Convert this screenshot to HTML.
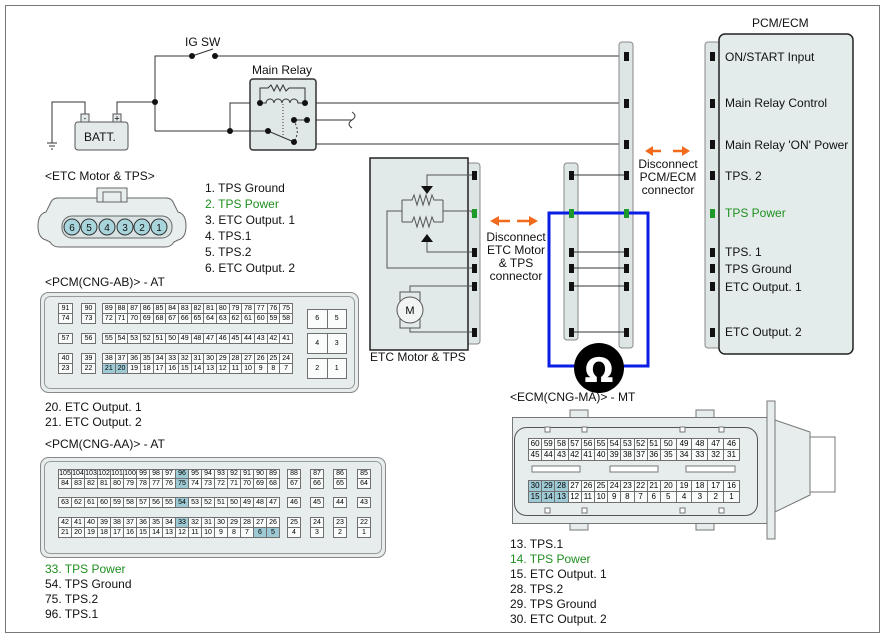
<!DOCTYPE html>
<html><head><meta charset="utf-8"><style>
body{margin:0;background:#fff;}
#w{position:relative;width:888px;height:640px;overflow:hidden;font-family:"Liberation Sans",sans-serif;}
svg{position:absolute;left:0;top:0}
.t{position:absolute;font-size:12px;color:#111;white-space:nowrap;line-height:14px}
.gr{color:#1f8f1f}
table.g{position:absolute;border-collapse:collapse;table-layout:fixed}
table.g td{border:1px solid #707070;background:#fafbfb;font:7px "Liberation Sans",sans-serif;text-align:center;padding:0;overflow:hidden;line-height:8px}
table.g td.h{background:#9ecad5}
table.e td{font-size:8px}
</style></head><body><div id="w">
<svg width="888" height="640" viewBox="0 0 888 640">
<rect x="5.5" y="5.5" width="874" height="627" fill="none" stroke="#777" stroke-width="1"/>
<g stroke="#333" stroke-width="1" fill="none">
<!-- top wiring -->
<polyline points="155,131 155,56 192,56"/>
<line x1="192" y1="56" x2="213" y2="49"/>
<polyline points="215,56 626,56"/>
<polyline points="117,115 117,102 155,102"/>
<polyline points="85,115 85,102 52,102 52,143"/>
<line x1="47" y1="143" x2="57" y2="143"/><line x1="49" y1="146" x2="55" y2="146"/><line x1="51" y1="149" x2="53" y2="149"/>
<polyline points="155,131 268,131"/>
<polyline points="230,131 230,103 260,103"/>
<polyline points="305,103 626,103"/>
<polyline points="307,120 352,120"/>
<path d="M352,112 q6,4 0,8 q-6,4 0,8"/>
<polyline points="307,120 307,144 626,144"/>
</g>
<rect x="250" y="79" width="66" height="71" rx="3" fill="#dfe7e7" stroke="#333" stroke-width="1.5"/>
<g stroke="#333" stroke-width="1" fill="none">
<polyline points="260,103 260,88 268,88 271,85 274,91 277,85 280,91 283,85 286,91 289,88 305,88 305,103"/>
<path d="M260,103 h6 a4,4 0 0 1 8,0 a4,4 0 0 1 8,0 a4,4 0 0 1 8,0 a4,4 0 0 1 8,0 h7"/>
<line x1="250" y1="131" x2="268" y2="131"/>
<line x1="268" y1="131" x2="294" y2="142"/>
<path d="M293,120 q8,10 1,22" stroke-dasharray="2,2"/>
<line x1="283" y1="104" x2="283" y2="140" stroke-dasharray="1,2"/>
<line x1="294" y1="120" x2="307" y2="120"/>
</g>
<g fill="#111">
<circle cx="155" cy="102" r="3"/><circle cx="192" cy="56" r="3"/><circle cx="215" cy="56" r="3"/><circle cx="230" cy="131" r="3"/>
<circle cx="260" cy="103" r="3"/><circle cx="305" cy="103" r="3"/><circle cx="294" cy="120" r="3"/><circle cx="307" cy="120" r="3"/><circle cx="268" cy="131" r="3"/><circle cx="294" cy="142" r="3"/>
</g>
<rect x="75" y="122" width="53" height="28" rx="3" fill="#e4eaea" stroke="#555"/>
<rect x="81" y="114" width="8" height="8" fill="#e4eaea" stroke="#555"/><rect x="113" y="114" width="8" height="8" fill="#e4eaea" stroke="#555"/>
<text x="85" y="121" font-size="8" text-anchor="middle" font-family="Liberation Sans">-</text>
<text x="117" y="121.5" font-size="9" text-anchor="middle" font-family="Liberation Sans">+</text>

<!-- ETC connector -->
<path d="M58,198 h108 q6,0 8,6 l4,8 q8,2 8,14 q0,12 -8,14 l-4,2 q-3,5 -9,5 h-106 q-6,0 -9,-5 l-4,-2 q-8,-2 -8,-14 q0,-12 8,-14 l4,-8 q2,-6 8,-6 z" fill="#e8eded" stroke="#666"/>
<rect x="97" y="188" width="30" height="14" fill="#e8eded" stroke="#666"/>
<rect x="103" y="192" width="18" height="10" fill="#e8eded" stroke="#666"/>
<rect x="62" y="216" width="110" height="22" rx="10" fill="#d8e2e2" stroke="#666"/>
<g fill="#a8d4dc" stroke="#333"><circle cx="72" cy="227" r="8"/><circle cx="89" cy="227" r="8"/><circle cx="107" cy="227" r="8"/><circle cx="125" cy="227" r="8"/><circle cx="142" cy="227" r="8"/><circle cx="159" cy="227" r="8"/></g>
<g font-size="10" font-family="Liberation Sans" text-anchor="middle" fill="#111"><text x="72" y="231">6</text><text x="89" y="231">5</text><text x="107" y="231">4</text><text x="125" y="231">3</text><text x="142" y="231">2</text><text x="159" y="231">1</text></g>

<!-- connector boxes -->
<rect x="40.5" y="292.5" width="318" height="100" rx="8" fill="#e7eded" stroke="#888"/>
<rect x="44.5" y="296.5" width="310" height="92" rx="6" fill="none" stroke="#999"/>
<rect x="40.5" y="457.5" width="345" height="100" rx="8" fill="#e7eded" stroke="#888"/>
<rect x="44.5" y="461.5" width="337" height="92" rx="6" fill="none" stroke="#999"/>

<!-- ECM connector -->
<rect x="570" y="410" width="18" height="10" fill="#e7eded" stroke="#777"/><rect x="696" y="410" width="18" height="10" fill="#e7eded" stroke="#777"/>
<rect x="570" y="520" width="18" height="10" fill="#e7eded" stroke="#777"/><rect x="696" y="520" width="18" height="10" fill="#e7eded" stroke="#777"/>
<path d="M775,420 L810,432 V495 L775,512 Z" fill="#e7eded" stroke="#777"/>
<rect x="810" y="437" width="25" height="55" fill="#fff" stroke="#777"/>
<rect x="512.5" y="417.5" width="255" height="106" fill="#e7eded" stroke="#777"/>
<rect x="767" y="401" width="8" height="138" fill="#e7eded" stroke="#777"/>
<rect x="514.5" y="427.5" width="243" height="88" rx="12" fill="#e7eded" stroke="#555"/>
<g fill="#fff" stroke="#777"><rect x="545" y="427" width="5" height="5"/><rect x="582" y="427" width="5" height="5"/><rect x="680" y="427" width="5" height="5"/><rect x="719" y="427" width="5" height="5"/>
<rect x="545" y="508" width="5" height="5"/><rect x="582" y="508" width="5" height="5"/><rect x="680" y="508" width="5" height="5"/><rect x="719" y="508" width="5" height="5"/>
<rect x="532" y="466" width="48" height="6"/><rect x="610" y="466" width="48" height="6"/><rect x="686" y="466" width="49" height="6"/></g>

<!-- ETC motor box -->
<rect x="466" y="163" width="14" height="181" rx="3" fill="#dde5e5" stroke="#888"/>
<rect x="370" y="158" width="98" height="192" fill="#e2e9e9" stroke="#222" stroke-width="1.5"/>
<g stroke="#555" stroke-width="1" fill="none">
<polyline points="472,175 427,175 427,186"/>
<polyline points="472,252 427,252 427,242"/>
<polyline points="402,200 402,222"/><polyline points="443,200 443,222"/>
<polyline points="402,200 412,200 414,195 417,205 420,195 423,205 426,195 429,205 432,195 434,200 443,200"/>
<polyline points="402,222 412,222 414,217 417,227 420,217 423,227 426,217 429,227 432,217 434,222 443,222"/>
<polyline points="443,211 472,211 472,213"/>
<polyline points="402,211 387,211 387,268 472,268"/>
<polyline points="472,286 410,286 410,292"/>
<polyline points="410,328 410,332 472,332"/>
<rect x="400" y="292" width="20" height="36"/>
</g>
<polygon points="421,186 433,186 427,194" fill="#111"/>
<polygon points="421,242 433,242 427,234" fill="#111"/>
<circle cx="410" cy="310" r="13" fill="#f2f4f4" stroke="#555"/>
<text x="410" y="314" font-size="11" text-anchor="middle" font-family="Liberation Sans">M</text>

<!-- middle strips -->
<rect x="564" y="163" width="14" height="177" rx="3" fill="#dde5e5" stroke="#888"/>
<rect x="619" y="42" width="14" height="306" rx="3" fill="#dde5e5" stroke="#888"/>
<g stroke="#333"><line x1="571" y1="175" x2="626" y2="175"/><line x1="571" y1="252" x2="626" y2="252"/><line x1="571" y1="268" x2="626" y2="268"/><line x1="571" y1="286" x2="626" y2="286"/><line x1="571" y1="332" x2="626" y2="332"/></g>
<polyline points="571,213 549,213 549,366 648,366 648,213 571,213" fill="none" stroke="#0a1ee6" stroke-width="3"/>
<circle cx="599" cy="368" r="25" fill="#000"/>
<text x="599" y="382" font-size="34" fill="#fff" text-anchor="middle" font-family="DejaVu Sans" font-weight="bold">Ω</text>

<!-- pins -->
<g fill="#111">
<rect x="472" y="171" width="5" height="9"/><rect x="472" y="248" width="5" height="9"/><rect x="472" y="264" width="5" height="9"/><rect x="472" y="282" width="5" height="9"/><rect x="472" y="328" width="5" height="9"/>
<rect x="569" y="171" width="5" height="9"/><rect x="569" y="248" width="5" height="9"/><rect x="569" y="264" width="5" height="9"/><rect x="569" y="282" width="5" height="9"/><rect x="569" y="328" width="5" height="9"/>
<rect x="624" y="52" width="5" height="9"/><rect x="624" y="99" width="5" height="9"/><rect x="624" y="140" width="5" height="9"/><rect x="624" y="171" width="5" height="9"/><rect x="624" y="248" width="5" height="9"/><rect x="624" y="264" width="5" height="9"/><rect x="624" y="282" width="5" height="9"/><rect x="624" y="328" width="5" height="9"/>
<rect x="710" y="52" width="5" height="9"/><rect x="710" y="99" width="5" height="9"/><rect x="710" y="140" width="5" height="9"/><rect x="710" y="171" width="5" height="9"/><rect x="710" y="248" width="5" height="9"/><rect x="710" y="264" width="5" height="9"/><rect x="710" y="282" width="5" height="9"/><rect x="710" y="328" width="5" height="9"/>
</g>
<g fill="#1f9a2a"><rect x="472" y="209" width="5" height="9"/><rect x="569" y="209" width="5" height="9"/><rect x="624" y="209" width="5" height="9"/><rect x="710" y="209" width="5" height="9"/></g>

<!-- PCM box -->
<rect x="705" y="42" width="16" height="306" rx="3" fill="#dde5e5" stroke="#888"/>
<rect x="719" y="34" width="134" height="320" rx="6" fill="#e3ebeb" stroke="#222" stroke-width="1.5"/>
<g fill="#111"><rect x="710" y="52" width="5" height="9"/><rect x="710" y="99" width="5" height="9"/><rect x="710" y="140" width="5" height="9"/><rect x="710" y="171" width="5" height="9"/><rect x="710" y="248" width="5" height="9"/><rect x="710" y="264" width="5" height="9"/><rect x="710" y="282" width="5" height="9"/><rect x="710" y="328" width="5" height="9"/></g>
<rect x="710" y="209" width="5" height="9" fill="#1f9a2a"/>

<!-- orange arrows -->
<g stroke="#f26a1b" stroke-width="2.5" fill="#f26a1b">
<line x1="497" y1="221" x2="510" y2="221"/><polygon points="490,221 499,216 499,226" stroke="none"/>
<line x1="517" y1="221" x2="530" y2="221"/><polygon points="538,221 529,216 529,226" stroke="none"/>
<line x1="651" y1="151" x2="661" y2="151"/><polygon points="645,151 653,146 653,156" stroke="none"/>
<line x1="673" y1="151" x2="683" y2="151"/><polygon points="690,151 682,146 682,156" stroke="none"/>
</g>
</svg>

<div class="t" style="left:185px;top:35px">IG SW</div>
<div class="t" style="left:252px;top:63px">Main Relay</div>
<div class="t" style="left:84px;top:130px">BATT.</div>
<div class="t" style="left:45px;top:169px">&lt;ETC Motor &amp; TPS&gt;</div>
<div class="t" style="left:205px;top:180px;line-height:16px">1. TPS Ground<br><span class="gr">2. TPS Power</span><br>3. ETC Output. 1<br>4. TPS.1<br>5. TPS.2<br>6. ETC Output. 2</div>
<div class="t" style="left:45px;top:275px">&lt;PCM(CNG-AB)&gt; - AT</div>
<div class="t" style="left:45px;top:400px;line-height:15px">20. ETC Output. 1<br>21. ETC Output. 2</div>
<div class="t" style="left:45px;top:437px">&lt;PCM(CNG-AA)&gt; - AT</div>
<div class="t" style="left:45px;top:562px;line-height:15px"><span class="gr">33. TPS Power</span><br>54. TPS Ground<br>75. TPS.2<br>96. TPS.1</div>
<div class="t" style="left:370px;top:350px">ETC Motor &amp; TPS</div>
<div class="t" style="left:478px;top:231px;width:76px;text-align:center;line-height:13px">Disconnect<br>ETC Motor<br>&amp; TPS<br>connector</div>
<div class="t" style="left:632px;top:158px;width:72px;text-align:center;line-height:13px">Disconnect<br>PCM/ECM<br>connector</div>
<div class="t" style="left:752px;top:16px">PCM/ECM</div>
<div class="t" style="left:725px;top:50px">ON/START Input</div>
<div class="t" style="left:725px;top:96px">Main Relay Control</div>
<div class="t" style="left:725px;top:138px">Main Relay 'ON' Power</div>
<div class="t" style="left:725px;top:169px">TPS. 2</div>
<div class="t gr" style="left:725px;top:206px">TPS Power</div>
<div class="t" style="left:725px;top:245px">TPS. 1</div>
<div class="t" style="left:725px;top:262px">TPS Ground</div>
<div class="t" style="left:725px;top:280px">ETC Output. 1</div>
<div class="t" style="left:725px;top:325px">ETC Output. 2</div>
<div class="t" style="left:510px;top:390px">&lt;ECM(CNG-MA)&gt; - MT</div>
<div class="t" style="left:510px;top:537px;line-height:15px">13. TPS.1<br><span class="gr">14. TPS Power</span><br>15. ETC Output. 1<br>28. TPS.2<br>29. TPS Ground<br>30. ETC Output. 2</div>

<!-- PCM CNG-AB -->
<table class="g" style="left:58px;top:303px;width:15px"><tr style="height:10px"><td>91</td></tr><tr style="height:10px"><td>74</td></tr></table>
<table class="g" style="left:81px;top:303px;width:15px"><tr style="height:10px"><td>90</td></tr><tr style="height:10px"><td>73</td></tr></table>
<table class="g" style="left:102px;top:303px;width:191px"><tr style="height:10px"><td>89</td><td>88</td><td>87</td><td>86</td><td>85</td><td>84</td><td>83</td><td>82</td><td>81</td><td>80</td><td>79</td><td>78</td><td>77</td><td>76</td><td>75</td></tr><tr style="height:10px"><td>72</td><td>71</td><td>70</td><td>69</td><td>68</td><td>67</td><td>66</td><td>65</td><td>64</td><td>63</td><td>62</td><td>61</td><td>60</td><td>59</td><td>58</td></tr></table>
<table class="g" style="left:58px;top:333px;width:15px"><tr style="height:10px"><td>57</td></tr></table>
<table class="g" style="left:81px;top:333px;width:15px"><tr style="height:10px"><td>56</td></tr></table>
<table class="g" style="left:102px;top:333px;width:191px"><tr style="height:10px"><td>55</td><td>54</td><td>53</td><td>52</td><td>51</td><td>50</td><td>49</td><td>48</td><td>47</td><td>46</td><td>45</td><td>44</td><td>43</td><td>42</td><td>41</td></tr></table>
<table class="g" style="left:58px;top:353px;width:15px"><tr style="height:10px"><td>40</td></tr><tr style="height:10px"><td>23</td></tr></table>
<table class="g" style="left:81px;top:353px;width:15px"><tr style="height:10px"><td>39</td></tr><tr style="height:10px"><td>22</td></tr></table>
<table class="g" style="left:102px;top:353px;width:191px"><tr style="height:10px"><td>38</td><td>37</td><td>36</td><td>35</td><td>34</td><td>33</td><td>32</td><td>31</td><td>30</td><td>29</td><td>28</td><td>27</td><td>26</td><td>25</td><td>24</td></tr><tr style="height:10px"><td class="h">21</td><td class="h">20</td><td>19</td><td>18</td><td>17</td><td>16</td><td>15</td><td>14</td><td>13</td><td>12</td><td>11</td><td>10</td><td>9</td><td>8</td><td>7</td></tr></table>
<table class="g" style="left:307px;top:309px;width:40px"><tr style="height:19px"><td>6</td><td>5</td></tr></table>
<table class="g" style="left:307px;top:333px;width:40px"><tr style="height:20px"><td>4</td><td>3</td></tr></table>
<table class="g" style="left:307px;top:358px;width:40px"><tr style="height:20px"><td>2</td><td>1</td></tr></table>

<!-- PCM CNG-AA -->
<table class="g" style="left:58px;top:469px;width:222px"><tr style="height:9px"><td>105</td><td>104</td><td>103</td><td>102</td><td>101</td><td>100</td><td>99</td><td>98</td><td>97</td><td class="h">96</td><td>95</td><td>94</td><td>93</td><td>92</td><td>91</td><td>90</td><td>89</td></tr><tr style="height:10px"><td>84</td><td>83</td><td>82</td><td>81</td><td>80</td><td>79</td><td>78</td><td>77</td><td>76</td><td class="h">75</td><td>74</td><td>73</td><td>72</td><td>71</td><td>70</td><td>69</td><td>68</td></tr></table>
<table class="g" style="left:58px;top:497px;width:222px"><tr style="height:10px"><td>63</td><td>62</td><td>61</td><td>60</td><td>59</td><td>58</td><td>57</td><td>56</td><td>55</td><td class="h">54</td><td>53</td><td>52</td><td>51</td><td>50</td><td>49</td><td>48</td><td>47</td></tr></table>
<table class="g" style="left:58px;top:517px;width:222px"><tr style="height:10px"><td>42</td><td>41</td><td>40</td><td>39</td><td>38</td><td>37</td><td>36</td><td>35</td><td>34</td><td class="h">33</td><td>32</td><td>31</td><td>30</td><td>29</td><td>28</td><td>27</td><td>26</td></tr><tr style="height:10px"><td>21</td><td>20</td><td>19</td><td>18</td><td>17</td><td>16</td><td>15</td><td>14</td><td>13</td><td>12</td><td>11</td><td>10</td><td>9</td><td>8</td><td>7</td><td class="h">6</td><td class="h">5</td></tr></table>
<table class="g" style="left:287px;top:469px;width:14px"><tr style="height:9px"><td>88</td></tr><tr style="height:10px"><td>67</td></tr></table>
<table class="g" style="left:310px;top:469px;width:14px"><tr style="height:9px"><td>87</td></tr><tr style="height:10px"><td>66</td></tr></table>
<table class="g" style="left:333px;top:469px;width:14px"><tr style="height:9px"><td>86</td></tr><tr style="height:10px"><td>65</td></tr></table>
<table class="g" style="left:357px;top:469px;width:14px"><tr style="height:9px"><td>85</td></tr><tr style="height:10px"><td>64</td></tr></table>
<table class="g" style="left:287px;top:497px;width:14px"><tr style="height:10px"><td>46</td></tr></table>
<table class="g" style="left:310px;top:497px;width:14px"><tr style="height:10px"><td>45</td></tr></table>
<table class="g" style="left:333px;top:497px;width:14px"><tr style="height:10px"><td>44</td></tr></table>
<table class="g" style="left:357px;top:497px;width:14px"><tr style="height:10px"><td>43</td></tr></table>
<table class="g" style="left:287px;top:517px;width:14px"><tr style="height:10px"><td>25</td></tr><tr style="height:10px"><td>4</td></tr></table>
<table class="g" style="left:310px;top:517px;width:14px"><tr style="height:10px"><td>24</td></tr><tr style="height:10px"><td>3</td></tr></table>
<table class="g" style="left:333px;top:517px;width:14px"><tr style="height:10px"><td>23</td></tr><tr style="height:10px"><td>2</td></tr></table>
<table class="g" style="left:357px;top:517px;width:14px"><tr style="height:10px"><td>22</td></tr><tr style="height:10px"><td>1</td></tr></table>

<!-- ECM -->
<table class="g e" style="left:528px;top:438px;width:211px"><colgroup><col style="width:13.2px"><col style="width:13.2px"><col style="width:13.2px"><col style="width:13.2px"><col style="width:13.2px"><col style="width:13.2px"><col style="width:13.2px"><col style="width:13.2px"><col style="width:13.2px"><col style="width:13.2px"><col style="width:15.8px"><col style="width:15.8px"><col style="width:15.8px"><col style="width:15.8px"><col style="width:15.8px"></colgroup>
<tr style="height:11px"><td>60</td><td>59</td><td>58</td><td>57</td><td>56</td><td>55</td><td>54</td><td>53</td><td>52</td><td>51</td><td>50</td><td>49</td><td>48</td><td>47</td><td>46</td></tr>
<tr style="height:11px"><td>45</td><td>44</td><td>43</td><td>42</td><td>41</td><td>40</td><td>39</td><td>38</td><td>37</td><td>36</td><td>35</td><td>34</td><td>33</td><td>32</td><td>31</td></tr></table>
<table class="g e" style="left:528px;top:480px;width:211px"><colgroup><col style="width:13.2px"><col style="width:13.2px"><col style="width:13.2px"><col style="width:13.2px"><col style="width:13.2px"><col style="width:13.2px"><col style="width:13.2px"><col style="width:13.2px"><col style="width:13.2px"><col style="width:13.2px"><col style="width:15.8px"><col style="width:15.8px"><col style="width:15.8px"><col style="width:15.8px"><col style="width:15.8px"></colgroup>
<tr style="height:11px"><td class="h">30</td><td class="h">29</td><td class="h">28</td><td>27</td><td>26</td><td>25</td><td>24</td><td>23</td><td>22</td><td>21</td><td>20</td><td>19</td><td>18</td><td>17</td><td>16</td></tr>
<tr style="height:11px"><td class="h">15</td><td class="h">14</td><td class="h">13</td><td>12</td><td>11</td><td>10</td><td>9</td><td>8</td><td>7</td><td>6</td><td>5</td><td>4</td><td>3</td><td>2</td><td>1</td></tr></table>
</div></body></html>
